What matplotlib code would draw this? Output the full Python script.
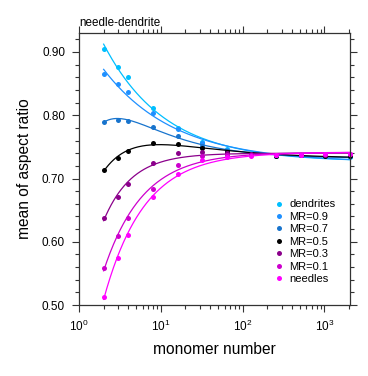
import matplotlib
matplotlib.use("Agg")
import matplotlib.pyplot as plt
import numpy as np
from matplotlib.ticker import LogLocator, MultipleLocator, FormatStrFormatter

plt.rcParams['font.family'] = ['Liberation Sans', 'DejaVu Sans']
plt.rcParams['mathtext.fontset'] = 'custom'
plt.rcParams['mathtext.rm'] = 'Liberation Sans'
plt.rcParams['mathtext.it'] = 'Liberation Sans:italic'

monomers = [2, 3, 4, 8, 16, 32, 64, 128, 256, 512, 1024, 2048]

labels = ["dendrites", "MR=0.9", "MR=0.7", "MR=0.5", "MR=0.3", "MR=0.1", "needles"]
colors = ["#00bfff", "#1e90ff", "#1874cd", "#000000", "#8b008b", "#cd00cd", "#ff00ff"]

dendrites = [0.905, 0.877, 0.860, 0.812, 0.780, 0.758, 0.746, 0.739, 0.736, 0.737, 0.735, 0.734]
mr09 = [0.865, 0.849, 0.836, 0.804, 0.779, 0.756, 0.745, 0.739, 0.736, 0.737, 0.735, 0.735]
mr07 = [0.790, 0.793, 0.791, 0.782, 0.767, 0.752, 0.743, 0.738, 0.736, 0.737, 0.735, 0.735]
mr05 = [0.713, 0.733, 0.743, 0.756, 0.755, 0.749, 0.742, 0.738, 0.736, 0.737, 0.736, 0.736]
mr03 = [0.637, 0.670, 0.692, 0.725, 0.740, 0.742, 0.740, 0.738, 0.737, 0.737, 0.737, 0.738]
mr01 = [0.558, 0.609, 0.637, 0.684, 0.721, 0.735, 0.737, 0.737, 0.737, 0.737, 0.738, 0.739]
needles = [0.513, 0.575, 0.611, 0.671, 0.707, 0.729, 0.734, 0.736, 0.737, 0.737, 0.738, 0.739]

series = [dendrites, mr09, mr07, mr05, mr03, mr01, needles]
# MR=0.5 and MR=0.7 are not monotonic at small sizes, they get a second term
n_terms = [1, 1, 2, 2, 1, 1, 1]


def fit_curve(x, y, xf, nt):
    # least squares y = a + b*u (+ c*u^2), u = x^-p, grid over p
    x = np.asarray(x, float)
    y = np.asarray(y, float)
    best = None
    for p in np.linspace(0.2, 2.0, 181):
        u = x ** -p
        cols = [np.ones_like(u), u] + ([u ** 2] if nt == 2 else [])
        A = np.vstack(cols).T
        coef = np.linalg.lstsq(A, y, rcond=None)[0]
        err = np.sum((A @ coef - y) ** 2)
        if best is None or err < best[0]:
            best = (err, p, coef)
    _, p, coef = best
    uf = xf ** -p
    out = coef[0] + coef[1] * uf
    if nt == 2:
        out = out + coef[2] * uf ** 2
    return out


fig = plt.figure(figsize=(3.68, 3.76), dpi=100)
ax = fig.add_axes([0.2147, 0.1888, 0.7363, 0.7234])

xf = np.logspace(np.log10(2), np.log10(2048), 300)
for lab, col, ys, nt in zip(labels, colors, series, n_terms):
    ax.plot(xf, fit_curve(monomers, ys, xf, nt), color=col, lw=0.9)
    ax.plot(monomers, ys, 'o', color=col, ms=3.6, mec='none', label=lab, clip_on=False)

ax.set_xscale('log')
ax.set_xlim(1, 2048)
ax.set_ylim(0.5, 0.93)
ax.yaxis.set_major_locator(MultipleLocator(0.1))
ax.yaxis.set_minor_locator(MultipleLocator(0.02))
ax.yaxis.set_major_formatter(FormatStrFormatter('%.2f'))
ax.xaxis.set_major_locator(LogLocator(base=10, numticks=10))
ax.xaxis.set_minor_locator(LogLocator(base=10, subs=np.arange(2, 10), numticks=10))

ax.tick_params(which='both', direction='out', top=True, right=True, width=0.8,
               labelsize=8.5, colors='#333333', labelcolor='black', pad=5)
ax.tick_params(which='major', length=5)
ax.tick_params(which='minor', length=3)
for s in ax.spines.values():
    s.set_linewidth(0.9)
    s.set_color('#333333')

ax.set_xlabel("monomer number", fontsize=11.2, labelpad=6)
ax.set_ylabel("mean of aspect ratio", fontsize=11.2, labelpad=7)
ax.set_title("needle-dendrite", fontsize=8.4, loc='left', pad=5)

ax.legend(loc='upper left', bbox_to_anchor=(0.722, 0.388), frameon=False,
          fontsize=8, handlelength=0.8, handletextpad=0.5, labelspacing=0.22,
          borderpad=0, borderaxespad=0, markerscale=1.0)

fig.savefig("out.png", dpi=100)
